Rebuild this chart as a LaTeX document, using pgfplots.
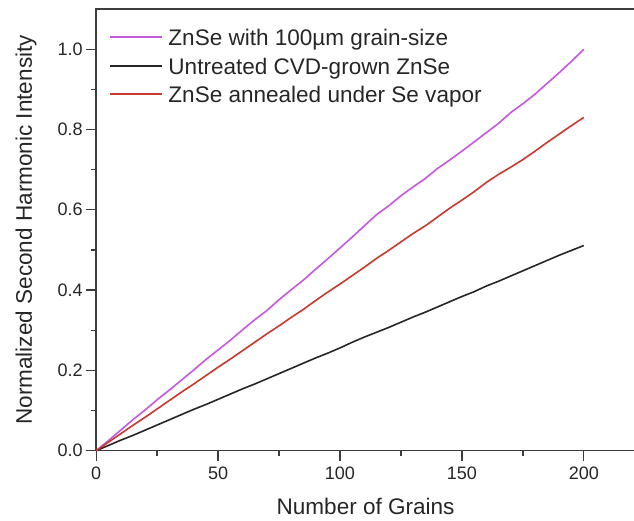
\documentclass[border=0pt]{standalone}
\usepackage{pgfplots}
\pgfplotsset{compat=1.18}
\usepackage{pgfplotstable}
\usepackage{fontspec}
\setmainfont{Liberation Sans}
\definecolor{pinkc}{RGB}{198,88,222}
\definecolor{redc}{RGB}{200,56,45}
\definecolor{axc}{RGB}{60,60,60}
\definecolor{txtc}{RGB}{38,38,38}

\pgfplotstableread{
x y
0 0
5 0.025
10 0.051
15 0.077
20 0.101
25 0.127
30 0.151
35 0.176
40 0.201
45 0.227
50 0.251
55 0.275
60 0.301
65 0.326
70 0.349
75 0.376
80 0.401
85 0.425
90 0.452
95 0.478
100 0.505
105 0.532
110 0.560
115 0.588
120 0.610
125 0.635
130 0.657
135 0.678
140 0.703
145 0.724
150 0.746
155 0.769
160 0.792
165 0.815
170 0.842
175 0.864
180 0.888
185 0.915
190 0.942
195 0.970
200 1.000
}\pinkdata

\pgfplotstableread{
x y
0 0
5 0.013
10 0.026
15 0.038
20 0.051
25 0.064
30 0.077
35 0.090
40 0.103
45 0.115
50 0.128
55 0.141
60 0.154
65 0.166
70 0.179
75 0.192
80 0.205
85 0.218
90 0.231
95 0.243
100 0.256
105 0.270
110 0.283
115 0.295
120 0.307
125 0.320
130 0.333
135 0.345
140 0.358
145 0.371
150 0.384
155 0.396
160 0.410
165 0.422
170 0.435
175 0.448
180 0.461
185 0.474
190 0.487
195 0.499
200 0.511
}\blackdata

\pgfplotstableread{
x y
0 0
5 0.021
10 0.042
15 0.063
20 0.083
25 0.104
30 0.125
35 0.146
40 0.166
45 0.187
50 0.208
55 0.228
60 0.249
65 0.270
70 0.291
75 0.311
80 0.332
85 0.352
90 0.374
95 0.395
100 0.415
105 0.436
110 0.457
115 0.479
120 0.499
125 0.520
130 0.541
135 0.560
140 0.582
145 0.604
150 0.624
155 0.645
160 0.668
165 0.688
170 0.706
175 0.725
180 0.746
185 0.768
190 0.789
195 0.810
200 0.830
}\reddata

\begin{document}
\begin{tikzpicture}
\begin{axis}[
  name=ax,
  scale only axis,
  width=538pt, height=441pt,
  xmin=0, xmax=221,
  ymin=0, ymax=1.1,
  xtick={0,50,100,150,200},
  ytick={0,0.2,0.4,0.6,0.8,1.0},
  minor x tick num=1,
  minor y tick num=1,
  tick pos=left,
  tick align=outside,
  major tick length=10pt,
  minor tick length=5pt,
  every tick/.style={axc, line width=1.3pt},
  axis line style={axc, line width=1.5pt},
  /pgf/number format/assume math mode=true,
  yticklabel style={/pgf/number format/.cd, fixed, fixed zerofill, precision=1},
  xticklabel style={yshift=-3pt},
  ticklabel style={font=\fontsize{18}{20}\selectfont, text=txtc},
  label style={font=\fontsize{22.5}{26}\selectfont, text=txtc},
  xlabel={Number of Grains},
  ylabel={Normalized Second Harmonic Intensity},
  xlabel style={yshift=-11pt},
  ylabel style={yshift=14pt},
  clip=false,
]
\addplot[draw=pinkc, line width=1.6pt] table[x=x,y=y] {\pinkdata};
\addplot[draw=txtc, line width=1.6pt] table[x=x,y=y] {\blackdata};
\addplot[draw=redc, line width=1.6pt] table[x=x,y=y] {\reddata};
% legend
\draw[pinkc, line width=1.8pt] (rel axis cs:0.026,0.9365) -- ++(52pt,0pt);
\draw[txtc, line width=1.8pt] (rel axis cs:0.026,0.8705) -- ++(52pt,0pt);
\draw[redc, line width=1.8pt] (rel axis cs:0.026,0.807) -- ++(52pt,0pt);
\node[anchor=base west, inner sep=0pt, yshift=-8pt, text=txtc, font=\fontsize{22.5}{26}\selectfont] at (rel axis cs:0.1338,0.9365) {ZnSe with 100\textmu m grain-size};
\node[anchor=base west, inner sep=0pt, yshift=-8pt, text=txtc, font=\fontsize{22.5}{26}\selectfont] at (rel axis cs:0.1338,0.8705) {Untreated CVD-grown ZnSe};
\node[anchor=base west, inner sep=0pt, yshift=-8pt, text=txtc, font=\fontsize{22.5}{26}\selectfont] at (rel axis cs:0.1338,0.807) {ZnSe annealed under Se vapor};
\end{axis}
\pgfresetboundingbox
\path ([xshift=-96pt,yshift=-70pt]ax.south west) rectangle ([xshift=-1pt,yshift=9pt]ax.north east);
\end{tikzpicture}
\end{document}
